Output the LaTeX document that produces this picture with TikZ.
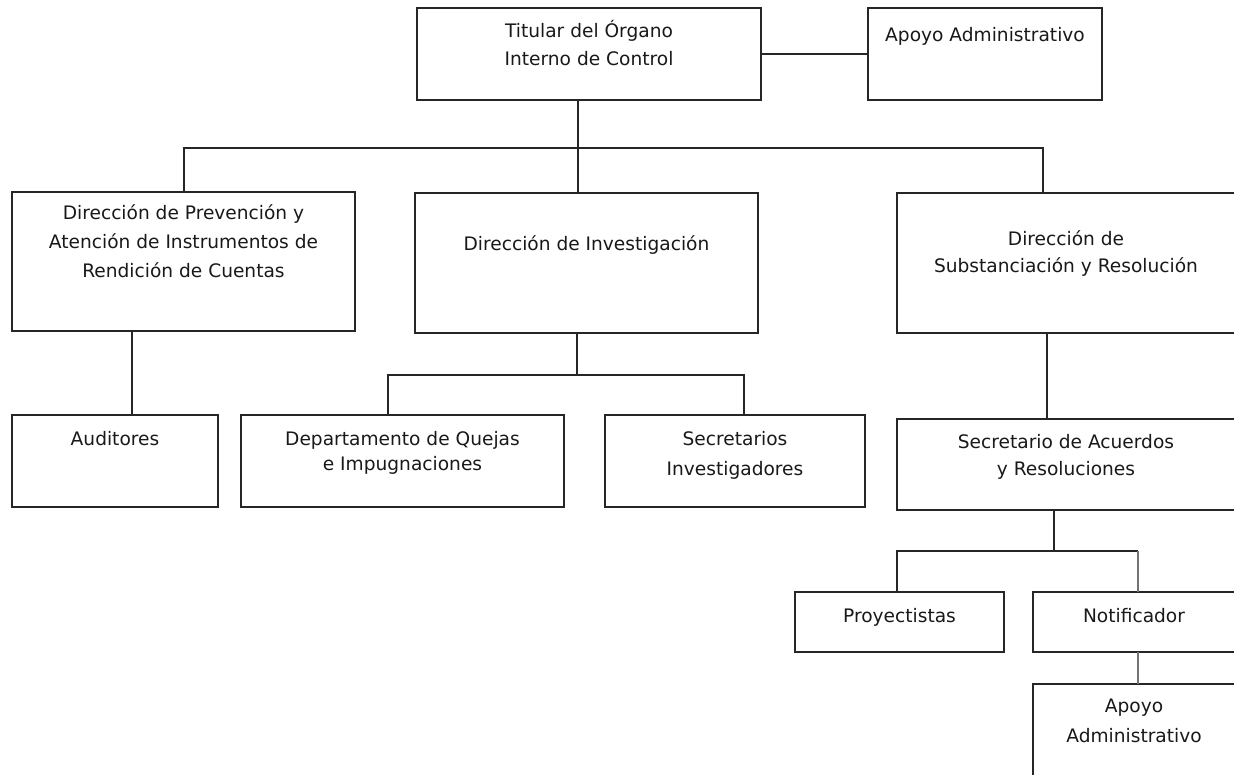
\documentclass[tikz,border=0pt]{standalone}
\usepackage{fontspec}
\setmainfont{DejaVu Sans}
\begin{document}
\begin{tikzpicture}[x=1pt,y=-1pt,
  box/.style={draw=black!85, line width=1.5pt, inner sep=0pt, outer sep=0pt},
  lbl/.style={anchor=north, inner sep=0pt, align=center, text=black!90,
              font=\fontsize{18.6}{28}\selectfont},
  conn/.style={draw=black!85, line width=1.5pt},
  connlight/.style={draw=black!55, line width=1.5pt}]
\useasboundingbox (0,0) rectangle (1234,774);
\clip (0,0) rectangle (1234,774);
\fill[white] (0,0) rectangle (1234,774);

% boxes
\node[box, minimum width=344pt, minimum height=92pt]  (tit)  at (589,54) {};
\node[box, minimum width=234pt, minimum height=92pt]  (apo)  at (985,54) {};
\node[box, minimum width=343pt, minimum height=139pt] (prev) at (183.5,261.5) {};
\node[box, minimum width=343pt, minimum height=140pt] (inv)  at (586.5,263) {};
\node[box, minimum width=338pt, minimum height=140pt] (sub)  at (1066,263) {};
\node[box, minimum width=206pt, minimum height=92pt]  (aud)  at (115,461) {};
\node[box, minimum width=323pt, minimum height=92pt]  (dep)  at (402.5,461) {};
\node[box, minimum width=260pt, minimum height=92pt]  (secI) at (735,461) {};
\node[box, minimum width=338pt, minimum height=91pt]  (secA) at (1066,464.5) {};
\node[box, minimum width=209pt, minimum height=60pt]  (proy) at (899.5,622) {};
\node[box, minimum width=202pt, minimum height=60pt]  (noti) at (1134,622) {};
\node[box, minimum width=202pt, minimum height=116pt] (apo2) at (1134,742) {};

% texts
\node[lbl] (titT) at (589,19) {\rule{0pt}{18pt}Titular del Órgano\\Interno de Control};
\node[lbl] (apoT) at (985,23) {\rule{0pt}{18pt}Apoyo Administrativo};
\node[lbl, font=\fontsize{18.6}{29}\selectfont] (prevT) at (183.5,201)
  {\rule{0pt}{18pt}Dirección de Prevención y\\Atención de Instrumentos de\\Rendición de Cuentas};
\node[lbl] (invT) at (586.5,232) {\rule{0pt}{18pt}Dirección de Investigación};
\node[lbl, font=\fontsize{18.6}{27}\selectfont] (subT) at (1066,227)
  {\rule{0pt}{18pt}Dirección de\\Substanciación y Resolución};
\node[lbl] (audT) at (115,427) {\rule{0pt}{18pt}Auditores};
\node[lbl, font=\fontsize{18.6}{25}\selectfont] (depT) at (402.5,427)
  {\rule{0pt}{18pt}Departamento de Quejas\\e Impugnaciones};
\node[lbl, font=\fontsize{18.6}{30}\selectfont] (secIT) at (735,427)
  {\rule{0pt}{18pt}Secretarios\\Investigadores};
\node[lbl, font=\fontsize{18.6}{27}\selectfont] (secAT) at (1066,430)
  {\rule{0pt}{18pt}Secretario de Acuerdos\\y Resoluciones};
\node[lbl] (proyT) at (899.5,604) {\rule{0pt}{18pt}Proyectistas};
\node[lbl] (notiT) at (1134,604) {\rule{0pt}{18pt}Notificador};
\node[lbl, font=\fontsize{18.6}{30}\selectfont] (apo2T) at (1134,694)
  {\rule{0pt}{18pt}Apoyo\\Administrativo};

% connectors
\coordinate (busL) at (184,148);
\coordinate (busM) at (578,148);
\coordinate (busR) at (1043,148);
\draw[conn] (tit.east) -- (apo.west);
\draw[conn] (busM |- tit.south) -- (busM |- inv.north);
\draw[conn] (busL |- prev.north) -- (busL) -- (busR) -- (busR |- sub.north);

\coordinate (audX) at (132,0);
\draw[conn] (audX |- prev.south) -- (audX |- aud.north);

\coordinate (ibM) at (577,375);
\coordinate (ibL) at (388,375);
\coordinate (ibR) at (744,375);
\draw[conn] (ibM |- inv.south) -- (ibM);
\draw[conn] (ibL |- dep.north) -- (ibL) -- (ibR) -- (ibR |- secI.north);

\coordinate (sX) at (1047,0);
\draw[conn] (sX |- sub.south) -- (sX |- secA.north);

\coordinate (pbM) at (1054,551);
\coordinate (pbL) at (897,551);
\coordinate (pbR) at (1138,551);
\draw[conn] (pbM |- secA.south) -- (pbM);
\draw[conn] (pbL |- proy.north) -- (pbL) -- (pbR);
\draw[connlight] (pbR) -- (pbR |- noti.north);
\draw[connlight] (pbR |- noti.south) -- (pbR |- apo2.north);
\end{tikzpicture}
\end{document}
